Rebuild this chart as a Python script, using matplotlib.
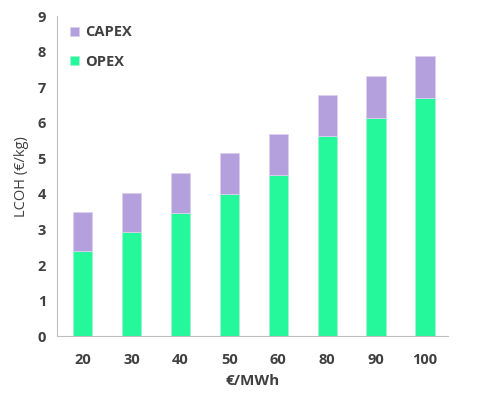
import numpy as np
import matplotlib.pyplot as plt

prices = ["20", "30", "40", "50", "60", "80", "90", "100"]
opex = [2.39, 2.93, 3.46, 4.01, 4.52, 5.64, 6.15, 6.70]
capex = [1.11, 1.11, 1.13, 1.15, 1.18, 1.15, 1.17, 1.17]

txt = "#404040"
plt.rcParams['font.family'] = ['Open Sans', 'DejaVu Sans']

fig = plt.figure(figsize=(4.84, 3.95), dpi=100)
ax = fig.add_axes([0.118, 0.149, 0.808, 0.81])

x = np.arange(len(prices))
b1 = ax.bar(x, opex, width=0.4, color="#25F89A", edgecolor="#9ff5cf", lw=0.6, label="OPEX")
b2 = ax.bar(x, capex, width=0.4, bottom=opex, color="#B4A0DC", edgecolor="#dcd0f0", lw=0.6, label="CAPEX")

ax.set_xlim(-0.52, 7.47)
ax.set_ylim(0, 9)
ax.set_yticks(range(10))
ax.set_xticks(x)
ax.set_xticklabels(prices)
for s in ["top", "right"]:
    ax.spines[s].set_visible(False)
for s in ["left", "bottom"]:
    ax.spines[s].set_color("#BFBFBF")
ax.tick_params(axis="y", length=0, labelsize=10.5, labelcolor=txt, pad=8)
ax.tick_params(axis="x", length=0, labelsize=10.5, labelcolor=txt, pad=12)
for lab in ax.get_xticklabels() + ax.get_yticklabels():
    lab.set_fontweight("bold")
ax.set_xlabel("€/MWh", fontsize=11, fontweight="bold", color=txt, labelpad=5)
ax.set_ylabel("LCOH (€/kg)", fontsize=10.5, color=txt, labelpad=6)

leg = ax.legend([b2, b1], ["CAPEX", "OPEX"], loc="upper left", frameon=False,
                handlelength=0.6, handleheight=0.6, handletextpad=0.4,
                labelspacing=1.05, prop={'size': 10.5, 'weight': 'bold'},
                bbox_to_anchor=(0.0, 1.012))
for t in leg.get_texts():
    t.set_color(txt)

fig.savefig("out.png", dpi=100)
